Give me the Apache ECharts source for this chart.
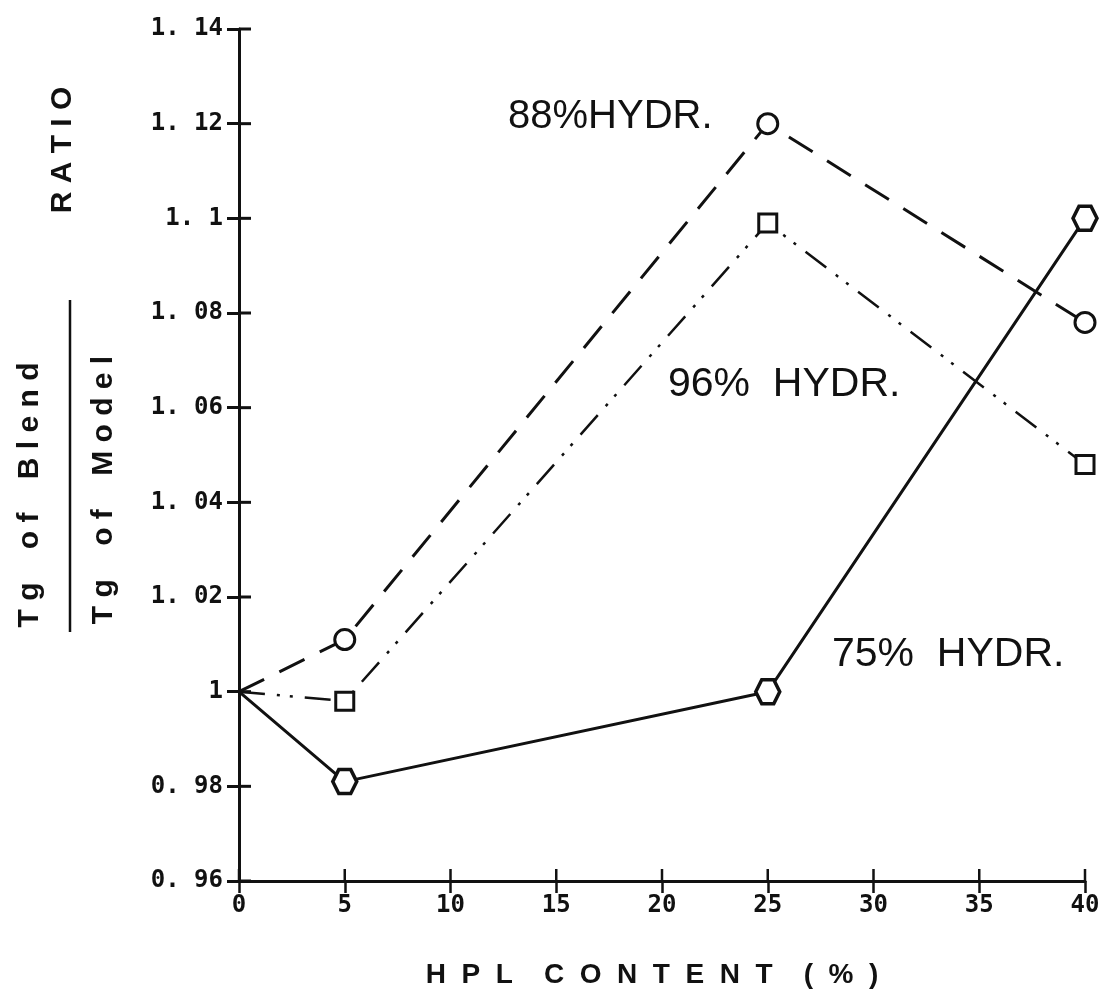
<!DOCTYPE html>
<html><head><meta charset="utf-8">
<script src="https://cdn.jsdelivr.net/npm/echarts@6/dist/echarts.min.js"></script>
<style>html,body{margin:0;padding:0;background:#fff}#c{width:1107px;height:999px}</style>
</head><body><div id="c"></div>
<script>
const hplContent = [0, 5, 25, 40];
const hydr88 = [1.0, 1.011, 1.12, 1.078];
const hydr96 = [1.0, 0.998, 1.099, 1.048];
const hydr75 = [1.0, 0.981, 1.0, 1.1];
const seriesNames = ['88%HYDR.', '96%  HYDR.', '75%  HYDR.'];
const xTicks = [0, 5, 10, 15, 20, 25, 30, 35, 40];
const yTicks = [0.96, 0.98, 1, 1.02, 1.04, 1.06, 1.08, 1.1, 1.12, 1.14];
const xMin = 0, xMax = 40, yMin = 0.96, yMax = 1.14;

const hexagon = 'path://M-1,0 L-0.5,-0.866 L0.5,-0.866 L1,0 L0.5,0.866 L-0.5,0.866 Z';
function pts(vals, sym, size){
  return vals.map((v,i)=>{
    const d = {value:[hplContent[i], v]};
    if (i===0) d.symbol='none'; else {d.symbol=sym; d.symbolSize=size;}
    return d;
  });
}
const tickFont = {fontFamily:'DejaVu Sans Mono', fontWeight:'bold', fontSize:24, color:'#111'};
const chart = echarts.init(document.getElementById('c'));
const axLine = {show:true, lineStyle:{color:'#111', width:3}};
// inner halves of the cross-shaped ticks, placed through the axis scales
function innerTicks(dir){
  return function(params, api){
    const p = api.coord([api.value(0), api.value(1)]);
    const shape = dir === 'x'
      ? {x1:p[0], y1:p[1], x2:p[0], y2:p[1]-12}
      : {x1:p[0], y1:p[1], x2:p[0]+12, y2:p[1]};
    return {type:'line', shape:shape, style:{stroke:'#111', lineWidth: dir==='x'?2.5:3}};
  };
}
chart.setOption({
  animation:false,
  backgroundColor:'#fff',
  grid:{left:239, right:22, top:29, bottom:118, containLabel:false},
  xAxis:{type:'value', min:xMin, max:xMax, interval:5, axisLine:axLine,
     axisTick:{show:true, length:12, lineStyle:{color:'#111', width:2.5}},
     axisLabel:Object.assign({margin:13}, tickFont), splitLine:{show:false}},
  yAxis:{type:'value', min:yMin, max:yMax, interval:0.02, axisLine:axLine,
     axisTick:{show:true, length:12, lineStyle:{color:'#111', width:3}},
     axisLabel:Object.assign({margin:16, formatter:v=>{const s=String(parseFloat(v.toFixed(2))); return s.replace('.', '. ');}}, tickFont),
     splitLine:{show:false}},
  series:[
    {name:'xticks', type:'custom', silent:true, clip:false, renderItem:innerTicks('x'),
     data:xTicks.map(v=>[v, yMin]), z:3},
    {name:'yticks', type:'custom', silent:true, clip:false, renderItem:innerTicks('y'),
     data:yTicks.map(v=>[xMin, v]), z:3},
    {name:seriesNames[0], type:'line', data:pts(hydr88,'circle',20),
     lineStyle:{color:'#111', width:3, type:[28,17]},
     itemStyle:{color:'#fff', borderColor:'#111', borderWidth:3}},
    {name:seriesNames[1], type:'line', data:pts(hydr96,'rect',18),
     lineStyle:{color:'#111', width:2.5, type:[26,12,3,10,3,12]},
     itemStyle:{color:'#fff', borderColor:'#111', borderWidth:3}},
    {name:seriesNames[2], type:'line', data:pts(hydr75,hexagon,24),
     lineStyle:{color:'#111', width:3, type:'solid'},
     itemStyle:{color:'#fff', borderColor:'#111', borderWidth:3.5}}
  ],
  graphic:[
    {type:'text', left:508, top:97, style:{text:seriesNames[0], font:'40px "Liberation Sans"', fill:'#111'}},
    {type:'text', left:668, top:364, style:{text:seriesNames[1], font:'41px "Liberation Sans"', fill:'#111'}},
    {type:'text', left:832, top:634, style:{text:seriesNames[2], font:'41px "Liberation Sans"', fill:'#111'}},
    {type:'text', x:652, y:975, style:{text:'H  P  L    C  O  N  T  E  N  T    (  %  )', font:'bold 28px "Liberation Sans"', fill:'#111', align:'center', verticalAlign:'middle'}},
    {type:'text', x:63, y:150, rotation:Math.PI/2, style:{text:'R A T I O', font:'bold 30px "Liberation Sans"', fill:'#111', align:'center', verticalAlign:'middle'}},
    {type:'text', x:30, y:495, rotation:Math.PI/2, style:{text:'T g    o f    B l e n d', font:'bold 30px "Liberation Sans"', fill:'#111', align:'center', verticalAlign:'middle'}},
    {type:'text', x:104, y:490, rotation:Math.PI/2, style:{text:'T g    o f    M o d e l', font:'bold 30px "Liberation Sans"', fill:'#111', align:'center', verticalAlign:'middle'}},
    {type:'line', shape:{x1:70, y1:300, x2:70, y2:632}, style:{stroke:'#111', lineWidth:2.5}}
  ]
});
</script></body></html>
